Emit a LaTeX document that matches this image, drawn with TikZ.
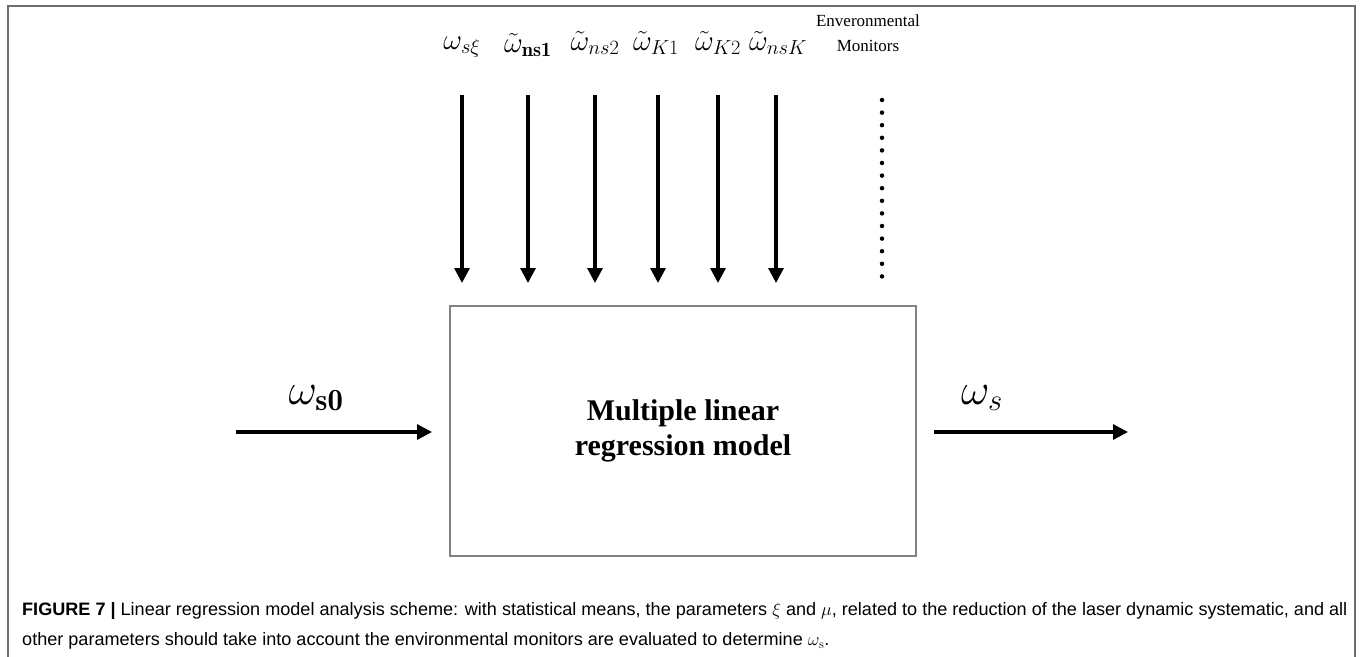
\RequirePackage{fix-cm}
\documentclass[tikz,border=0pt]{standalone}
\usepackage{fontspec}
\usepackage{amsmath}
\usetikzlibrary{arrows.meta}
\newfontfamily\timesfont{Liberation Serif}
\newfontfamily\capfont{Liberation Sans}
\definecolor{framegray}{RGB}{110,110,110}
\definecolor{boxgray}{RGB}{130,130,130}
\tikzset{
  arr/.style={line width=3.2pt,-{Triangle[width=15pt,length=15pt]}},
  toplabel/.style={inner sep=0pt,font=\fontsize{29}{31}\selectfont},
  sidelabel/.style={inner sep=0pt,font=\fontsize{44}{46}\selectfont},
  model/.style={draw=boxgray,line width=2.4pt,minimum width=466pt,minimum height=250pt,inner sep=0pt,
    align=center,font=\timesfont\bfseries\fontsize{30}{35}\selectfont},
}
\begin{document}
\begin{tikzpicture}[x=1pt,y=-1pt]
\useasboundingbox (0,0) rectangle (1360,656);
% outer frame
\draw[framegray,line width=2pt] (8,660) -- (8,6) -- (1355,6) -- (1355,660);
% model box
\node[model] (box) at (683,431) {Multiple linear\\regression model};
% top inputs
\foreach \n/\x in {a/462,b/528,c/595,d/658,e/718,f/776}{
  \coordinate (\n s) at (\x,95);
  \coordinate (\n e) at (\x,283);
  \draw[arr] (\n s) -- (\n e);
}
\node[toplabel] (la) at (462,47) {$\omega_{s\xi}$};
\node[toplabel] (lb) at (528,45) {$\tilde{\omega}_{\mathbf{ns1}}$};
\node[toplabel] (lc) at (595,43) {$\tilde{\omega}_{ns2}$};
\node[toplabel] (ld) at (656,43) {$\tilde{\omega}_{K1}$};
\node[toplabel] (le) at (718,43) {$\tilde{\omega}_{K2}$};
\node[toplabel] (lf) at (778,43) {$\tilde{\omega}_{nsK}$};
\node[inner sep=0pt,align=center,font=\timesfont\fontsize{17}{25}\selectfont] (env) at (868,33) {Enveronmental\\Monitors};
% dotted line
\coordinate (ds) at (882,100);
\coordinate (de) at (882,277);
\draw[line width=4.5pt,line cap=round,dash pattern=on 0pt off 12.6pt] (ds) -- (de);
% side arrows
\coordinate (ins) at (236,432);
\coordinate (ine) at (432,432);
\draw[arr] (ins) -- (ine);
\node[sidelabel] (lin) at (316,398) {$\omega_{\mathbf{s0}}$};
\coordinate (outs) at (934,432);
\coordinate (oute) at (1128,432);
\draw[arr] (outs) -- (oute);
\node[sidelabel] (lout) at (982,398) {$\omega_{s}$};
% caption
\node[anchor=north west,inner sep=0pt] (cap) at (22,594) {\resizebox{1325pt}{\height}{\capfont\fontsize{18}{31}\selectfont
\begin{tabular}{@{}l@{}}
\textbf{FIGURE 7 |} Linear regression model analysis scheme: with statistical means, the parameters $\xi$ and $\mu$, related to the reduction of the laser dynamic systematic, and all\\[-1pt]
other parameters should take into account the environmental monitors are evaluated to determine $\omega_{\mathrm{s}}$.
\end{tabular}}};
\end{tikzpicture}
\end{document}
